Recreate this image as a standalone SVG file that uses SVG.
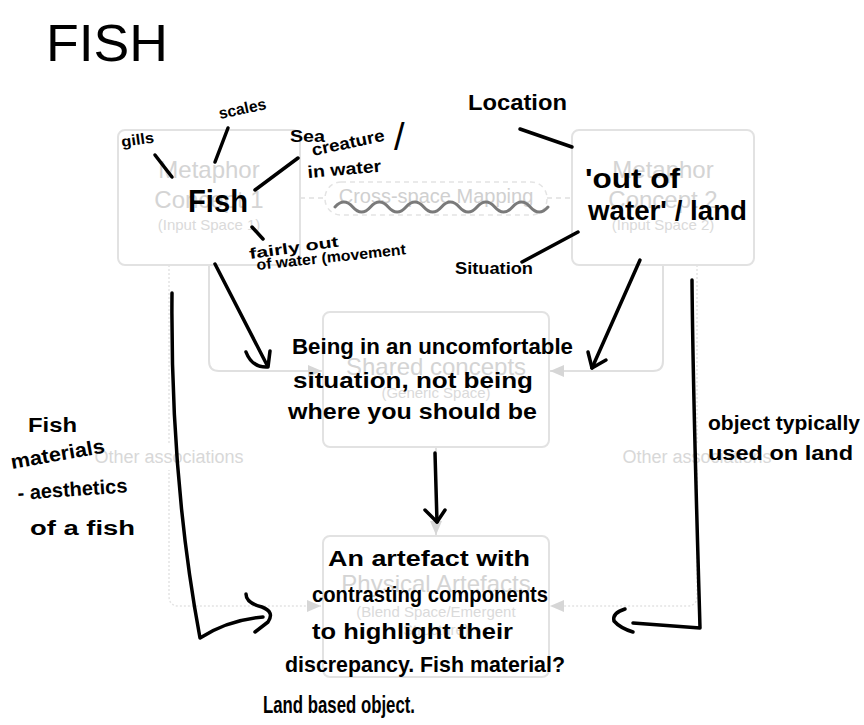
<svg xmlns="http://www.w3.org/2000/svg" width="864" height="725" viewBox="0 0 864 725">
<style>
.box{fill:#fff;stroke:#e2e2e2;stroke-width:2}
.t1{font-family:"Liberation Sans",Arial,sans-serif;font-size:24px;fill:#d4d4d4;text-anchor:middle}
.t2{font-family:"Liberation Sans",Arial,sans-serif;font-size:15px;fill:#dadada;text-anchor:middle}
.lab{font-family:"Liberation Sans",Arial,sans-serif;font-size:18px;fill:#d8d8d8;text-anchor:middle}
.con{fill:none;stroke:#e0e0e0;stroke-width:2}
.dot{fill:none;stroke:#e4e4e4;stroke-width:1.5;stroke-dasharray:2 2}
.dash{fill:none;stroke:#e0e0e0;stroke-width:1.5;stroke-dasharray:5 4}
.hw{font-family:"Liberation Sans",Arial,sans-serif;font-weight:bold;fill:#000}
.thin{font-weight:normal}
.ink{fill:none;stroke:#000;stroke-width:3.5;stroke-linecap:round;stroke-linejoin:round}
</style>
<defs>
<marker id="tri" viewBox="0 0 14 12" refX="14" refY="6" markerWidth="14" markerHeight="12" markerUnits="userSpaceOnUse" orient="auto">
<path d="M0,0 L14,6 L0,12 Z" fill="#d6d6d6"/>
</marker>
</defs>
<rect width="864" height="725" fill="#fff"/>

<g id="connectors">
<path class="con" d="M209,265 V361 Q209,371 219,371 H322" marker-end="url(#tri)"/>
<path class="con" d="M663,265 V361 Q663,371 653,371 H550" marker-end="url(#tri)"/>
<path class="dot" d="M169,265 V596 Q169,606 179,606 H321" marker-end="url(#tri)"/>
<path class="dot" d="M697,265 V596 Q697,606 687,606 H550" marker-end="url(#tri)"/>
<path class="con" d="M436,447 V535" marker-end="url(#tri)"/>
<path class="dash" d="M300,198 H325"/>
<path class="dash" d="M547,198 H572"/>
<rect x="94" y="444" width="150" height="26" fill="#fff"/>
<text class="lab" x="169" y="463">Other associations</text>
<rect x="622" y="444" width="150" height="26" fill="#fff"/>
<text class="lab" x="697" y="463">Other associations</text>
</g>

<g id="concept1">
<rect class="box" x="118" y="130" width="182" height="135" rx="7"/>
<text class="t1" x="209" y="178">Metaphor</text>
<text class="t1" x="209" y="208">Concept 1</text>
<text class="t2" x="209" y="230">(Input Space 1)</text>
</g>

<g id="concept2">
<rect class="box" x="572" y="130" width="182" height="135" rx="7"/>
<text class="t1" x="663" y="178">Metaphor</text>
<text class="t1" x="663" y="208">Concept 2</text>
<text class="t2" x="663" y="230">(Input Space 2)</text>
</g>

<g id="mapping">
<rect x="325" y="182" width="222" height="33" rx="16" fill="#fff" stroke="#e4e4e4" stroke-width="1.5" stroke-dasharray="5 4"/>
<text x="436" y="203" font-family="Liberation Sans, Arial, sans-serif" font-size="20" fill="#d0d0d0" text-anchor="middle">Cross-space Mapping</text>
<path d="M335,207 Q343.9,197 352.75,207 T370.5,207 T388.25,207 T406,207 T423.75,207 T441.5,207 T459.25,207 T477,207 T494.75,207 T512.5,207 T530.25,207 T548,207" fill="none" stroke="#7a7a7a" stroke-width="3" stroke-linecap="round"/>
</g>

<g id="shared">
<rect class="box" x="323" y="312" width="226" height="135" rx="7"/>
<text class="t1" x="436" y="375">Shared concepts</text>
<text class="t2" x="436" y="398">(Generic Space)</text>
</g>

<g id="physical">
<rect class="box" x="323" y="536" width="226" height="141" rx="7"/>
<text class="t1" x="436" y="592">Physical Artefacts</text>
<text class="t2" x="436" y="617">(Blend Space/Emergent</text>
<text class="t2" x="436" y="635">Structure)</text>
</g>

<g id="handwriting">
<text class="hw thin" x="46" y="61" font-size="52" textLength="122" lengthAdjust="spacingAndGlyphs">FISH</text>
<text class="hw" x="122" y="147" font-size="15" textLength="33" lengthAdjust="spacingAndGlyphs" transform="rotate(-8 122 147)">gills</text>
<text class="hw" x="220" y="119" font-size="16" textLength="48" lengthAdjust="spacingAndGlyphs" transform="rotate(-12 220 119)">scales</text>
<text class="hw" x="290" y="142" font-size="17" textLength="35" lengthAdjust="spacingAndGlyphs">Sea</text>
<text class="hw" x="313" y="156" font-size="17" textLength="74" lengthAdjust="spacingAndGlyphs" transform="rotate(-12 313 156)">creature</text>
<text class="hw thin" x="394" y="150" font-size="38">/</text>
<text class="hw" x="308" y="178" font-size="17" textLength="74" lengthAdjust="spacingAndGlyphs" transform="rotate(-5 308 178)">in water</text>
<text class="hw" x="188" y="212" font-size="32" textLength="60" lengthAdjust="spacingAndGlyphs">Fish</text>
<text class="hw" x="250" y="259" font-size="15" textLength="90" lengthAdjust="spacingAndGlyphs" transform="rotate(-8 250 259)">fairly out</text>
<text class="hw" x="257" y="270" font-size="15" textLength="150" lengthAdjust="spacingAndGlyphs" transform="rotate(-6 257 270)">of water (movement</text>
<text class="hw" x="468" y="110" font-size="22" textLength="99" lengthAdjust="spacingAndGlyphs">Location</text>
<text class="hw" x="585" y="188" font-size="28" textLength="95" lengthAdjust="spacingAndGlyphs">'out of</text>
<text class="hw" x="588" y="220" font-size="28" textLength="159" lengthAdjust="spacingAndGlyphs">water' / land</text>
<text class="hw" x="455" y="274" font-size="17" textLength="78" lengthAdjust="spacingAndGlyphs">Situation</text>
<text class="hw" x="292" y="354" font-size="22" textLength="281" lengthAdjust="spacingAndGlyphs">Being in an uncomfortable</text>
<text class="hw" x="293" y="388" font-size="22" textLength="240" lengthAdjust="spacingAndGlyphs">situation, not being</text>
<text class="hw" x="288" y="419" font-size="22" textLength="249" lengthAdjust="spacingAndGlyphs">where you should be</text>
<text class="hw" x="28" y="432" font-size="20" textLength="49" lengthAdjust="spacingAndGlyphs">Fish</text>
<text class="hw" x="12" y="469" font-size="20" textLength="95" lengthAdjust="spacingAndGlyphs" transform="rotate(-10 12 469)">materials</text>
<text class="hw" x="18" y="500" font-size="20" textLength="110" lengthAdjust="spacingAndGlyphs" transform="rotate(-4 18 500)">- aesthetics</text>
<text class="hw" x="30" y="535" font-size="20" textLength="105" lengthAdjust="spacingAndGlyphs">of a fish</text>
<text class="hw" x="708" y="430" font-size="20" textLength="152" lengthAdjust="spacingAndGlyphs">object typically</text>
<text class="hw" x="708" y="460" font-size="20" textLength="145" lengthAdjust="spacingAndGlyphs">used on land</text>
<text class="hw" x="328" y="566" font-size="22" textLength="202" lengthAdjust="spacingAndGlyphs">An artefact with</text>
<text class="hw" x="312" y="602" font-size="22" textLength="236" lengthAdjust="spacingAndGlyphs">contrasting components</text>
<text class="hw" x="312" y="639" font-size="22" textLength="201" lengthAdjust="spacingAndGlyphs">to highlight their</text>
<text class="hw" x="285" y="672" font-size="22" textLength="280" lengthAdjust="spacingAndGlyphs">discrepancy. Fish material?</text>
<text class="hw" x="263" y="713" font-size="24" textLength="152" lengthAdjust="spacingAndGlyphs">Land based object.</text>
</g>

<g id="ink-strokes">
<path class="ink" d="M155,155 L172,177"/>
<path class="ink" d="M228,128 L215,162"/>
<path class="ink" d="M255,190 L298,158"/>
<path class="ink" d="M252,227 L263,239"/>
<path class="ink" d="M520,129 L572,147"/>
<path class="ink" d="M578,232 L522,262"/>
<path class="ink" d="M215,264 L267,365"/>
<path class="ink" d="M246,352 Q252,368 268,367 L270,351"/>
<path class="ink" d="M640,260 L592,368"/>
<path class="ink" d="M588,352 L592,368 L606,360"/>
<path class="ink" d="M435,453 Q436,490 437,522"/>
<path class="ink" d="M425,510 L437,522 L445,510"/>
<path class="ink" d="M172,293 C171,400 178,520 200,638 Q228,620 263,617"/>
<path class="ink" d="M246,594 Q246,603 262,607 Q275,612 268,622 L255,632"/>
<path class="ink" d="M692,280 C693,400 697,520 700,628 L633,623"/>
<path class="ink" d="M625,609 Q612,613 614,621 Q620,628 633,632"/>
</g>
</svg>
